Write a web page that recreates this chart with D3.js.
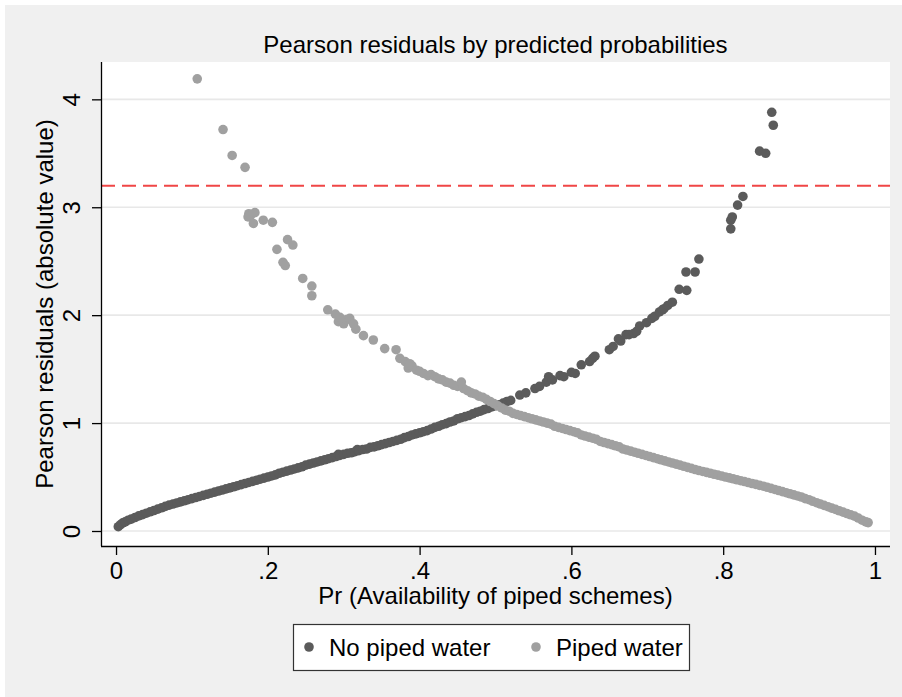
<!DOCTYPE html>
<html>
<head>
<meta charset="utf-8">
<script src="https://cdn.jsdelivr.net/npm/d3@7"></script>
<style>
  body { margin: 0; background: #ffffff; }
  svg text { font-family: "Liberation Sans", Arial, sans-serif; fill: #000; }
</style>
</head>
<body>
<svg id="chart" width="902" height="697"></svg>
<script>
// [predicted probability, |pearson residual|]
var noPiped = [
  [0.003,0.04],[0.006,0.06],[0.009,0.075],[0.012,0.085],[0.016,0.10],[0.020,0.11],
  [0.025,0.125],[0.030,0.14],[0.035,0.152],[0.040,0.165],[0.045,0.178],[0.050,0.19],
  [0.055,0.203],[0.060,0.215],[0.065,0.228],[0.070,0.24],[0.075,0.25],[0.080,0.26],
  [0.085,0.27],[0.090,0.28],[0.095,0.29],[0.100,0.30],[0.105,0.31],[0.110,0.32],
  [0.115,0.33],[0.120,0.34],[0.125,0.35],[0.130,0.36],[0.135,0.37],[0.140,0.38],
  [0.145,0.39],[0.150,0.40],[0.155,0.41],[0.160,0.42],[0.165,0.43],[0.170,0.44],
  [0.175,0.45],[0.180,0.46],[0.185,0.47],[0.190,0.48],[0.195,0.49],[0.200,0.50],
  [0.205,0.51],[0.210,0.52],[0.215,0.535],[0.220,0.545],[0.225,0.555],[0.230,0.565],
  [0.235,0.575],[0.240,0.585],[0.245,0.595],[0.250,0.61],[0.255,0.62],[0.260,0.63],
  [0.265,0.64],[0.270,0.65],[0.275,0.66],[0.280,0.67],[0.285,0.68],[0.290,0.69],
  [0.293,0.71],[0.295,0.70],[0.300,0.71],[0.305,0.72],[0.310,0.725],[0.315,0.735],
  [0.318,0.755],[0.320,0.745],[0.325,0.755],[0.330,0.76],[0.335,0.775],[0.340,0.78],
  [0.345,0.79],[0.350,0.80],[0.355,0.81],[0.360,0.82],[0.365,0.83],[0.370,0.84],
  [0.375,0.85],[0.380,0.865],[0.385,0.875],[0.390,0.89],[0.395,0.90],[0.400,0.91],
  [0.405,0.92],[0.410,0.93],[0.415,0.945],[0.420,0.96],[0.425,0.97],[0.430,0.985],
  [0.435,0.995],[0.440,1.01],[0.445,1.02],[0.450,1.04],[0.455,1.05],[0.460,1.06],
  [0.465,1.07],[0.470,1.085],[0.475,1.10],[0.480,1.11],[0.485,1.125],[0.490,1.135],
  [0.495,1.15],[0.500,1.16],[0.505,1.17],[0.510,1.185],[0.515,1.20],[0.520,1.21],
  [0.532,1.26],[0.540,1.28],[0.552,1.32],[0.558,1.34],[0.567,1.38],[0.570,1.43],
  [0.575,1.40],[0.585,1.44],[0.590,1.43],[0.600,1.47],[0.605,1.46],[0.613,1.54],
  [0.624,1.57],[0.628,1.60],[0.631,1.62],[0.650,1.68],[0.655,1.71],[0.662,1.78],
  [0.665,1.76],[0.672,1.82],[0.676,1.82],[0.682,1.83],[0.686,1.85],[0.690,1.90],
  [0.699,1.93],[0.706,1.97],[0.710,1.99],[0.716,2.03],[0.720,2.05],[0.722,2.06],
  [0.727,2.09],[0.733,2.12],[0.742,2.24],[0.752,2.23],[0.751,2.40],[0.763,2.40],
  [0.768,2.52],[0.810,2.80],[0.810,2.88],[0.812,2.91],[0.819,3.02],[0.826,3.10],
  [0.848,3.52],[0.856,3.50],[0.864,3.88],[0.866,3.76]
];

var piped = [
  [0.107,4.19],[0.141,3.72],[0.153,3.48],[0.170,3.37],[0.174,2.91],[0.175,2.94],
  [0.177,2.92],[0.181,2.85],[0.183,2.95],[0.194,2.88],[0.206,2.86],[0.212,2.61],
  [0.220,2.49],[0.223,2.46],[0.226,2.70],[0.233,2.65],[0.246,2.34],[0.258,2.27],
  [0.258,2.18],[0.279,2.05],[0.289,2.01],[0.293,1.94],[0.295,1.98],[0.300,1.92],
  [0.304,1.96],[0.308,1.97],[0.313,1.92],[0.316,1.87],[0.326,1.81],[0.339,1.77],
  [0.354,1.69],[0.369,1.68],[0.374,1.60],[0.381,1.57],[0.385,1.51],[0.387,1.55],
  [0.390,1.53],[0.396,1.49],[0.400,1.48],[0.405,1.46],[0.411,1.44],[0.415,1.45],
  [0.420,1.43],[0.425,1.41],[0.430,1.40],[0.435,1.38],[0.440,1.37],[0.445,1.35],
  [0.450,1.34],[0.455,1.38],[0.458,1.32],[0.463,1.30],[0.468,1.28],[0.473,1.27],
  [0.478,1.25],[0.483,1.24],[0.488,1.22],[0.493,1.20],[0.498,1.18],[0.503,1.16],
  [0.508,1.14],[0.513,1.12],[0.518,1.11],[0.523,1.09],[0.528,1.08],[0.533,1.07],
  [0.538,1.06],[0.543,1.05],[0.548,1.04],[0.553,1.03],[0.558,1.02],[0.563,1.01],
  [0.568,1.00],[0.573,0.99],[0.578,0.97],[0.583,0.96],[0.588,0.95],[0.593,0.94],
  [0.598,0.93],[0.603,0.92],[0.608,0.91],[0.613,0.89],[0.618,0.88],[0.623,0.87],
  [0.628,0.86],[0.633,0.85],[0.638,0.83],[0.643,0.82],[0.648,0.81],[0.653,0.80],
  [0.658,0.79],[0.663,0.78],[0.668,0.76],[0.673,0.75],[0.678,0.74],[0.683,0.73],
  [0.688,0.72],[0.693,0.71],[0.698,0.70],[0.703,0.69],[0.708,0.68],[0.713,0.67],
  [0.718,0.66],[0.723,0.65],[0.728,0.64],[0.733,0.63],[0.738,0.62],[0.743,0.61],
  [0.748,0.60],[0.753,0.59],[0.758,0.58],[0.763,0.57],[0.768,0.56],[0.773,0.552],
  [0.778,0.543],[0.783,0.535],[0.788,0.526],[0.793,0.518],[0.798,0.509],[0.803,0.50],
  [0.808,0.492],[0.813,0.484],[0.818,0.475],[0.823,0.466],[0.828,0.458],[0.833,0.449],
  [0.838,0.44],[0.843,0.432],[0.848,0.423],[0.853,0.415],[0.858,0.405],[0.863,0.395],
  [0.868,0.385],[0.873,0.375],[0.878,0.365],[0.883,0.355],[0.888,0.345],[0.893,0.335],
  [0.898,0.325],[0.903,0.315],[0.908,0.30],[0.913,0.29],[0.918,0.275],[0.923,0.262],
  [0.928,0.25],[0.933,0.237],[0.938,0.225],[0.943,0.212],[0.948,0.20],[0.953,0.187],
  [0.958,0.175],[0.963,0.162],[0.968,0.15],[0.973,0.138],[0.978,0.12],[0.983,0.10],
  [0.988,0.085],[0.991,0.078]
];

var xTicks = [0, 0.2, 0.4, 0.6, 0.8, 1];
var xTickLabels = ['0', '.2', '.4', '.6', '.8', '1'];
var yTicks = [0, 1, 2, 3, 4];
var cutoff = 3.2;
var seriesNames = ['No piped water', 'Piped water'];
var seriesColors = ['#5b5b5b', '#a0a0a0'];

var
  svg = d3.select('#chart'),
  margin = {top: 62, right: 12, bottom: 151, left: 101},
  width = +svg.attr('width') - margin.left - margin.right,
  height = +svg.attr('height') - margin.top - margin.bottom,
  fontSize = 24
  ;

svg.append('rect')
  .attr('x', 5).attr('y', 5)
  .attr('width', 897).attr('height', 692)
  .attr('fill', '#f0f0f0');

var g = svg.append('g')
  .attr('transform', 'translate(' + margin.left + ',' + margin.top + ')');

var xScale = d3.scaleLinear().domain([-0.0198, 1.0198]).range([0, width]);
var yScale = d3.scaleLinear().domain([-0.139, 4.346]).range([height, 0]);

g.append('rect')
  .attr('width', width).attr('height', height)
  .attr('fill', '#ffffff');

// grid
g.selectAll('.grid')
  .data(yTicks)
  .enter().append('line')
  .attr('class', 'grid')
  .attr('x1', 0).attr('x2', width)
  .attr('y1', function(d){ return yScale(d); })
  .attr('y2', function(d){ return yScale(d); })
  .attr('stroke', '#e8e8e8')
  .attr('stroke-width', 1.6);

// cutoff line
g.append('line')
  .attr('x1', 0).attr('x2', width)
  .attr('y1', yScale(cutoff)).attr('y2', yScale(cutoff))
  .attr('stroke', '#f04646')
  .attr('stroke-width', 2)
  .attr('stroke-dasharray', '14,7');

// points
[noPiped, piped].forEach(function(ser, i){
  g.append('g')
    .attr('fill', seriesColors[i])
    .selectAll('circle')
    .data(ser)
    .enter().append('circle')
    .attr('cx', function(d){ return xScale(d[0]); })
    .attr('cy', function(d){ return yScale(d[1]); })
    .attr('r', 4.8);
});

// axes
var xAxis = g.append('g')
  .attr('transform', 'translate(0,' + height + ')')
  .call(d3.axisBottom(xScale)
    .tickValues(xTicks)
    .tickSize(9)
    .tickFormat(function(d, i){ return xTickLabels[i]; }));

var yAxis = g.append('g')
  .call(d3.axisLeft(yScale)
    .tickValues(yTicks)
    .tickSize(9)
    .tickFormat(d3.format('d')));

[xAxis, yAxis].forEach(function(ax){
  ax.select('.domain').attr('stroke', '#000').attr('stroke-width', 1.3);
  ax.selectAll('.tick line').attr('stroke', '#000').attr('stroke-width', 1.3);
  ax.selectAll('text').attr('font-size', fontSize).attr('font-family', null).attr('fill', '#000');
});
xAxis.select('.domain').attr('d', 'M0,0.5H' + width);
yAxis.select('.domain').attr('d', 'M0.5,' + height + 'V0');

xAxis.selectAll('.tick text')
  .attr('dy', null)
  .attr('y', 33);

yAxis.selectAll('.tick text')
  .attr('x', null).attr('dy', null)
  .attr('text-anchor', 'middle')
  .attr('transform', 'translate(-21,0) rotate(-90)');

// titles
svg.append('text')
  .attr('x', margin.left + width / 2).attr('y', 53)
  .attr('text-anchor', 'middle')
  .attr('font-size', fontSize)
  .text('Pearson residuals by predicted probabilities');

svg.append('text')
  .attr('x', margin.left + width / 2).attr('y', 604)
  .attr('text-anchor', 'middle')
  .attr('font-size', fontSize)
  .text('Pr (Availability of piped schemes)');

svg.append('text')
  .attr('transform', 'translate(53,' + (margin.top + height / 2) + ') rotate(-90)')
  .attr('text-anchor', 'middle')
  .attr('font-size', fontSize)
  .text('Pearson residuals (absolute value)');

// legend
var legend = svg.append('g').attr('transform', 'translate(293,624)');
legend.append('rect')
  .attr('x', 0.5).attr('y', 0.5)
  .attr('width', 396).attr('height', 46)
  .attr('fill', '#ffffff')
  .attr('stroke', '#333')
  .attr('stroke-width', 1.2);

var items = legend.selectAll('.item')
  .data(seriesNames)
  .enter().append('g')
  .attr('class', 'item')
  .attr('transform', function(d, i){ return 'translate(' + (i === 0 ? 16 : 243) + ',23)'; });

items.append('circle')
  .attr('r', 4.8)
  .attr('fill', function(d, i){ return seriesColors[i]; });

items.append('text')
  .attr('x', 20).attr('y', 8.5)
  .attr('font-size', fontSize)
  .text(function(d){ return d; });
</script>
</body>
</html>
